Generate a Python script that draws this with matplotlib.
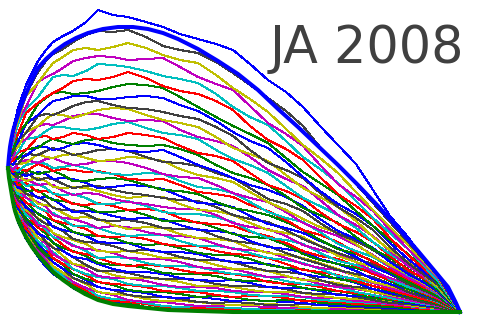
import matplotlib
matplotlib.use("Agg")
import matplotlib.pyplot as plt

# shared horizontal positions of the noisy paths
x_grid = [0, 2, 5, 10, 18, 30, 38, 45, 55, 65, 78, 90, 105, 120, 138, 155, 172, 190,
          208, 225, 242, 260, 278, 295, 312, 330, 348, 365, 382, 400, 415, 430, 452]
start_level = 144
end_level = 0

# noisy paths, bottom to top, values at x_grid[1:-1]
paths = [
    [127, 106, 90, 73, 55, 45, 38, 32, 24, 17, 12, 10, 7, 4, 3, 2, 1, 1, 0, 0, 1, 1, 0, 0, 0, 0, 0, 0, 0, 0, 0],
    [128, 109, 92, 76, 59, 51, 40, 33, 27, 19, 13, 12, 9, 5, 3, 3, 2, 1, 1, 1, 0, 0, 1, 1, 1, 0, 0, 0, 0, 0, 0],
    [128, 109, 94, 75, 60, 49, 41, 35, 28, 22, 14, 11, 10, 8, 5, 4, 4, 3, 2, 3, 3, 2, 2, 2, 2, 1, 1, 1, 1, 1, 0],
    [128, 110, 93, 78, 61, 53, 43, 36, 30, 24, 16, 13, 12, 9, 6, 5, 6, 5, 4, 3, 2, 3, 4, 3, 2, 2, 2, 1, 1, 1, 1],
    [129, 109, 93, 80, 61, 52, 46, 39, 30, 24, 20, 17, 12, 10, 10, 8, 6, 6, 7, 6, 5, 4, 5, 4, 3, 3, 3, 2, 2, 2, 1],
    [129, 109, 96, 79, 64, 56, 46, 39, 34, 28, 20, 18, 17, 13, 11, 11, 10, 8, 7, 7, 8, 7, 5, 4, 5, 4, 3, 3, 2, 1, 1],
    [131, 112, 95, 82, 64, 56, 50, 43, 34, 29, 25, 22, 17, 15, 15, 13, 10, 9, 10, 9, 7, 7, 8, 7, 6, 5, 4, 3, 3, 2, 1],
    [130, 111, 98, 81, 68, 60, 50, 43, 38, 32, 25, 22, 21, 19, 15, 14, 15, 13, 11, 12, 11, 10, 9, 7, 6, 6, 5, 4, 3, 2, 2],
    [131, 113, 97, 84, 65, 58, 54, 47, 38, 33, 30, 27, 22, 20, 20, 18, 15, 16, 15, 12, 11, 12, 12, 9, 8, 7, 6, 5, 4, 3, 2],
    [130, 112, 100, 83, 71, 64, 54, 48, 43, 37, 30, 28, 27, 25, 21, 20, 20, 17, 15, 16, 16, 14, 11, 11, 10, 8, 8, 7, 5, 3, 2],
    [132, 115, 98, 88, 71, 64, 60, 52, 43, 38, 35, 33, 28, 26, 26, 24, 21, 21, 20, 17, 16, 16, 15, 12, 11, 10, 9, 8, 6, 4, 3],
    [131, 113, 103, 87, 75, 68, 58, 52, 48, 43, 36, 34, 34, 31, 27, 25, 25, 24, 21, 20, 20, 18, 15, 14, 14, 11, 10, 8, 6, 5, 3],
    [133, 117, 101, 91, 74, 71, 65, 56, 48, 46, 42, 37, 34, 34, 33, 30, 26, 26, 25, 22, 20, 20, 19, 16, 14, 13, 12, 10, 7, 5, 4],
    [132, 116, 106, 90, 80, 70, 64, 61, 55, 47, 41, 41, 39, 35, 33, 33, 32, 28, 26, 26, 25, 23, 19, 18, 18, 15, 12, 9, 8, 6, 4],
    [134, 118, 103, 94, 78, 75, 70, 61, 55, 53, 48, 43, 40, 40, 38, 34, 32, 31, 32, 29, 25, 24, 24, 21, 17, 16, 15, 12, 9, 7, 5],
    [133, 117, 107, 93, 85, 78, 69, 64, 61, 56, 49, 47, 47, 44, 39, 38, 38, 36, 32, 31, 31, 28, 24, 22, 21, 18, 14, 12, 10, 8, 5],
    [134, 120, 106, 99, 84, 81, 75, 67, 60, 58, 54, 49, 46, 47, 46, 42, 39, 39, 38, 35, 30, 28, 28, 25, 21, 19, 17, 13, 11, 9, 6],
    [134, 119, 111, 97, 90, 82, 75, 72, 67, 61, 54, 55, 54, 49, 46, 46, 45, 41, 38, 37, 35, 31, 28, 27, 25, 20, 17, 14, 11, 8, 6],
    [135, 121, 109, 103, 87, 85, 79, 72, 66, 63, 62, 59, 54, 53, 53, 50, 45, 43, 43, 39, 35, 35, 33, 28, 25, 23, 20, 16, 12, 9, 6],
    [135, 120, 115, 102, 94, 88, 79, 75, 72, 68, 61, 60, 61, 58, 54, 54, 52, 47, 43, 43, 41, 36, 32, 31, 29, 24, 20, 17, 14, 11, 7],
    [136, 124, 112, 106, 93, 88, 86, 81, 73, 70, 69, 66, 61, 62, 60, 55, 52, 52, 50, 45, 41, 40, 38, 32, 27, 25, 23, 18, 14, 10, 7],
    [135, 123, 118, 104, 99, 93, 85, 82, 80, 76, 70, 69, 69, 63, 60, 60, 58, 53, 50, 49, 48, 44, 38, 35, 34, 29, 23, 19, 16, 12, 8],
    [138, 126, 115, 110, 98, 94, 92, 87, 80, 77, 76, 74, 69, 67, 68, 64, 59, 57, 57, 53, 47, 44, 43, 38, 33, 30, 26, 21, 16, 12, 8],
    [137, 124, 120, 109, 105, 100, 92, 89, 87, 83, 76, 75, 76, 73, 68, 66, 66, 61, 58, 57, 54, 48, 42, 40, 37, 31, 26, 22, 17, 13, 9],
    [138, 127, 118, 115, 104, 101, 99, 93, 86, 86, 84, 79, 76, 77, 77, 71, 66, 66, 64, 59, 54, 52, 49, 43, 36, 33, 29, 24, 19, 15, 10],
    [137, 127, 124, 114, 110, 105, 97, 94, 93, 89, 84, 86, 85, 80, 77, 76, 74, 68, 63, 62, 60, 54, 48, 44, 42, 36, 29, 24, 19, 15, 11],
    [139, 130, 121, 119, 108, 107, 105, 99, 94, 95, 93, 87, 83, 85, 84, 78, 74, 73, 71, 64, 59, 57, 54, 49, 43, 36, 30, 26, 21, 16, 11],
    [140, 129, 126, 118, 115, 111, 104, 102, 102, 98, 92, 91, 92, 89, 84, 83, 83, 76, 71, 69, 66, 59, 53, 48, 42, 38, 35, 28, 20, 15, 11],
    [139, 133, 124, 123, 114, 115, 113, 106, 100, 101, 100, 96, 93, 94, 93, 87, 82, 81, 79, 71, 65, 63, 60, 53, 48, 41, 33, 28, 23, 17, 12],
    [140, 131, 130, 121, 122, 116, 112, 111, 109, 105, 100, 100, 102, 97, 91, 91, 90, 84, 78, 75, 74, 67, 58, 52, 48, 44, 39, 31, 23, 18, 12],
    [142, 135, 127, 129, 120, 121, 119, 113, 108, 107, 109, 106, 102, 103, 101, 94, 89, 88, 86, 80, 76, 69, 61, 56, 53, 46, 38, 32, 26, 19, 13],
    [141, 132, 133, 126, 128, 124, 118, 117, 118, 114, 108, 108, 111, 106, 100, 98, 98, 95, 90, 81, 74, 72, 68, 59, 51, 47, 42, 33, 25, 20, 14],
    [143, 136, 131, 133, 127, 128, 127, 121, 117, 119, 118, 113, 110, 108, 105, 103, 103, 97, 89, 85, 83, 76, 67, 62, 58, 50, 40, 34, 28, 21, 14],
    [143, 135, 136, 131, 134, 131, 125, 124, 125, 124, 121, 117, 114, 116, 115, 108, 102, 101, 97, 89, 82, 79, 75, 66, 56, 50, 45, 38, 29, 22, 15],
    [144, 138, 134, 139, 132, 134, 133, 128, 124, 126, 126, 122, 119, 117, 114, 112, 111, 105, 97, 93, 90, 82, 73, 66, 59, 53, 48, 38, 28, 22, 15],
    [143, 138, 140, 136, 140, 138, 133, 134, 133, 129, 124, 125, 127, 126, 123, 116, 109, 108, 105, 96, 88, 84, 79, 71, 64, 55, 45, 38, 31, 24, 16],
    [144, 142, 137, 142, 138, 140, 141, 137, 131, 131, 133, 134, 132, 127, 122, 121, 118, 110, 104, 101, 97, 90, 82, 72, 63, 58, 51, 40, 30, 23, 16],
    [146, 140, 144, 141, 148, 145, 141, 143, 142, 140, 141, 138, 133, 132, 133, 127, 120, 118, 115, 107, 101, 92, 82, 77, 70, 59, 50, 42, 33, 25, 18],
    [146, 143, 141, 147, 150, 148, 144, 145, 147, 144, 140, 138, 137, 139, 138, 131, 125, 123, 119, 110, 100, 94, 90, 80, 68, 61, 55, 45, 35, 27, 18],
    [145, 142, 148, 152, 149, 153, 154, 150, 147, 148, 151, 151, 149, 144, 138, 135, 134, 127, 119, 114, 110, 100, 89, 82, 76, 67, 57, 45, 34, 27, 19],
    [147, 148, 148, 149, 158, 155, 154, 157, 158, 154, 151, 152, 155, 154, 151, 143, 137, 134, 130, 120, 110, 102, 93, 85, 79, 68, 56, 47, 38, 29, 20],
    [149, 148, 148, 158, 157, 161, 164, 161, 157, 159, 162, 163, 161, 155, 150, 149, 146, 139, 134, 124, 113, 108, 101, 89, 78, 71, 62, 51, 40, 30, 20],
    [149, 147, 155, 156, 166, 165, 162, 164, 168, 169, 167, 163, 161, 160, 162, 155, 147, 141, 134, 127, 122, 115, 106, 93, 81, 73, 64, 50, 38, 30, 21],
    [149, 153, 153, 163, 164, 170, 173, 170, 168, 172, 173, 169, 167, 166, 167, 163, 157, 147, 139, 134, 127, 116, 104, 97, 89, 75, 63, 54, 43, 33, 22],
    [150, 151, 160, 162, 175, 176, 173, 175, 179, 177, 173, 175, 179, 177, 174, 166, 159, 156, 151, 139, 127, 121, 113, 100, 88, 80, 70, 56, 42, 34, 24],
    [153, 155, 160, 173, 175, 181, 185, 185, 183, 182, 184, 188, 190, 184, 179, 177, 173, 162, 153, 147, 139, 126, 114, 106, 97, 84, 70, 58, 47, 36, 24],
    [151, 155, 168, 173, 186, 188, 187, 191, 196, 198, 198, 194, 191, 192, 191, 182, 175, 171, 166, 155, 142, 133, 126, 112, 97, 87, 76, 61, 46, 36, 26],
    [154, 160, 165, 180, 186, 193, 198, 197, 194, 198, 202, 204, 203, 197, 192, 189, 185, 175, 164, 158, 151, 137, 124, 115, 105, 91, 75, 62, 50, 38, 25],
    [155, 159, 172, 179, 196, 198, 197, 201, 206, 210, 211, 207, 204, 203, 200, 196, 193, 185, 176, 162, 149, 142, 134, 119, 105, 94, 82, 65, 49, 38, 27],
    [155, 164, 170, 188, 197, 205, 211, 213, 216, 216, 213, 213, 215, 216, 214, 207, 201, 191, 180, 171, 164, 150, 135, 121, 108, 98, 86, 69, 53, 41, 29],
    [157, 162, 178, 188, 208, 214, 219, 220, 218, 219, 221, 225, 228, 227, 224, 215, 205, 195, 186, 178, 169, 154, 140, 129, 117, 101, 86, 72, 58, 44, 29],
    [159, 169, 178, 199, 209, 215, 219, 224, 231, 233, 232, 235, 240, 234, 226, 221, 218, 211, 202, 186, 172, 163, 152, 135, 118, 106, 93, 74, 57, 44, 31],
    [160, 169, 188, 203, 215, 226, 235, 237, 236, 241, 248, 247, 245, 241, 236, 233, 229, 218, 205, 195, 187, 171, 155, 143, 129, 111, 94, 79, 63, 47, 31],
    [160, 173, 192, 205, 230, 235, 238, 244, 251, 254, 256, 255, 252, 253, 254, 245, 235, 228, 222, 206, 189, 178, 166, 147, 128, 115, 101, 82, 63, 49, 34],
    [163, 176, 191, 216, 229, 240, 249, 255, 262, 264, 262, 265, 269, 264, 257, 252, 249, 237, 224, 213, 200, 183, 167, 154, 139, 120, 102, 85, 67, 51, 35],
    [164, 178, 198, 218, 240, 251, 258, 263, 270, 277, 281, 280, 282, 275, 266, 262, 259, 250, 239, 227, 214, 201, 186, 165, 146, 128, 109, 90, 70, 53, 36],
    [166, 183, 204, 227, 251, 262, 270, 276, 281, 290, 302, 297, 295, 290, 285, 278, 273, 268, 262, 248, 232, 220, 205, 186, 167, 148, 122, 96, 75, 54, 38],
]

# colour cycle, starting from the bottom path
path_colors = ["#0000ff", "#008000", "#ff0000", "#00bfbf", "#bf00bf", "#bfbf00", "#404040"]

# smooth envelopes
upper_x = [0, 1, 2, 3, 5, 8, 12, 17, 23, 30, 38, 47, 57, 68, 80, 95, 110, 125, 140, 155,
           170, 190, 210, 230, 250, 270, 290, 310, 330, 350, 370, 390, 410, 430, 440, 448, 452]
upper_y = [144, 156, 165, 171, 181, 191, 203, 216, 230, 244, 253, 261, 268, 274, 279, 283, 285, 285, 283, 279,
           273, 263, 251, 238, 222, 203, 185, 166, 147, 127, 106, 84, 61, 37, 25, 9, 0]
lower_x = [0, 1, 2, 3, 5, 7, 10, 14, 18, 24, 30, 38, 45, 55, 65, 77, 90, 105, 120, 140, 160, 190, 225, 452]
lower_y = [144, 134, 128, 122, 110, 101, 92, 83, 75, 65, 57, 48, 40, 32, 25, 18, 12, 8, 6, 4, 2, 1, 0, 0]

label = "JA 2008"

fig = plt.figure(figsize=(4.83, 3.26), dpi=100)
ax = fig.add_axes([0, 0, 1, 1])
ax.set_xlim(-8, 475)
ax.set_ylim(-14, 312)
ax.axis("off")

for i, p in enumerate(paths):
    ys = [start_level] + p + [end_level]
    ax.plot(x_grid, ys, color=path_colors[i % len(path_colors)], lw=0.75, antialiased=False)

ax.plot(upper_x, upper_y, color="#0000ff", lw=2.9, zorder=3)
ax.plot(lower_x, lower_y, color="#008000", lw=2.9, zorder=3)

ax.text(262, 249, label, fontsize=36.5, color="#404040", family="DejaVu Sans",
        ha="left", va="baseline")

fig.savefig("out.png", dpi=100)
